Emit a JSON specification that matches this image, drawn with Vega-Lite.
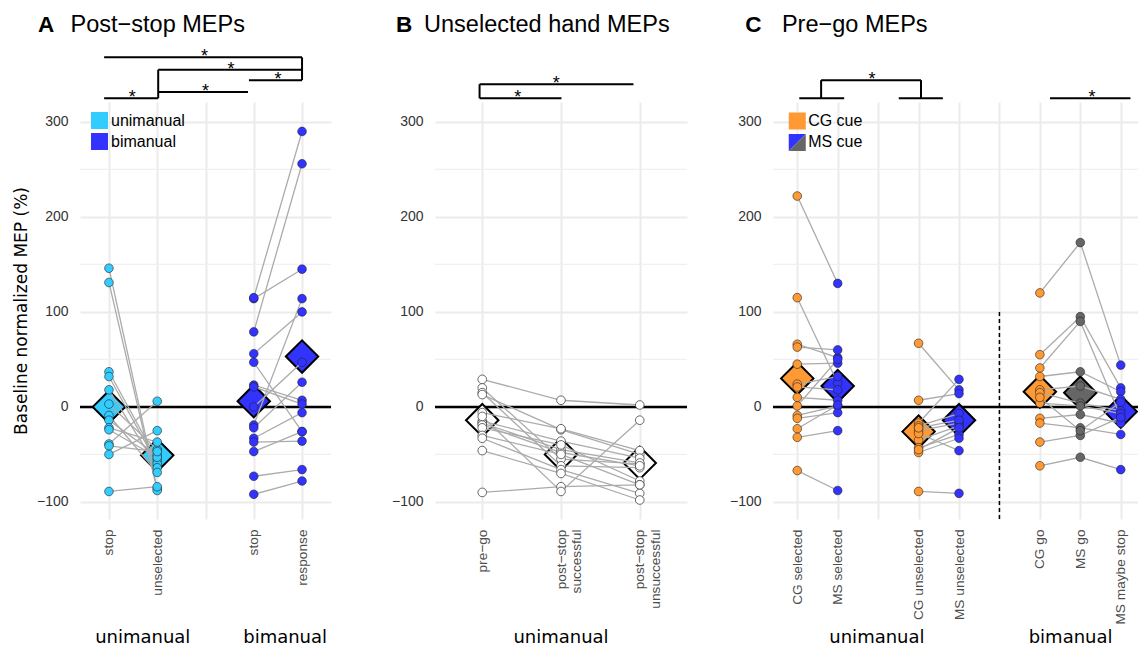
{
  "$schema": "https://vega.github.io/schema/vega-lite/v6.json",
  "background": "white",
  "padding": {"left": 12, "top": 12, "right": 0, "bottom": 0},
  "config": {
    "view": {"stroke": null},
    "font": "Liberation Sans",
    "axis": {"grid": true, "gridColor": "#EBEBEB", "gridWidth": 2, "domain": false, "ticks": false, "labelFont": "Liberation Sans", "labelFlush": false, "labelOverlap": false},
    "axisX": {"labelAngle": 270, "labelFontSize": 13.7, "labelColor": "#4D4D4D", "labelPadding": 10},
    "axisY": {"labelFontSize": 14, "labelColor": "#333333", "labelPadding": 12}
  },
  "resolve": {"scale": {"color": "independent"}, "legend": {"color": "independent"}},
  "datasets": {
    "minor": [{"v": -50}, {"v": 50}, {"v": 150}, {"v": 250}],
    "a": [
      {"s": "u1", "x": 1, "v": 146, "g": "unimanual"}, {"s": "u1", "x": 2, "v": -86, "g": "unimanual"},
      {"s": "u2", "x": 1, "v": 131, "g": "unimanual"}, {"s": "u2", "x": 2, "v": -88, "g": "unimanual"},
      {"s": "u3", "x": 1, "v": 37, "g": "unimanual"}, {"s": "u3", "x": 2, "v": -56, "g": "unimanual"},
      {"s": "u4", "x": 1, "v": 32, "g": "unimanual"}, {"s": "u4", "x": 2, "v": -60, "g": "unimanual"},
      {"s": "u5", "x": 1, "v": 18, "g": "unimanual"}, {"s": "u5", "x": 2, "v": -64, "g": "unimanual"},
      {"s": "u6", "x": 1, "v": 3, "g": "unimanual"}, {"s": "u6", "x": 2, "v": -45, "g": "unimanual"},
      {"s": "u7", "x": 1, "v": -9, "g": "unimanual"}, {"s": "u7", "x": 2, "v": -69, "g": "unimanual"},
      {"s": "u8", "x": 1, "v": -14, "g": "unimanual"}, {"s": "u8", "x": 2, "v": -51, "g": "unimanual"},
      {"s": "u9", "x": 1, "v": -22, "g": "unimanual"}, {"s": "u9", "x": 2, "v": -37, "g": "unimanual"},
      {"s": "u10", "x": 1, "v": -24, "g": "unimanual"}, {"s": "u10", "x": 2, "v": -53, "g": "unimanual"},
      {"s": "u11", "x": 1, "v": -39, "g": "unimanual"}, {"s": "u11", "x": 2, "v": 6, "g": "unimanual"},
      {"s": "u12", "x": 1, "v": -41, "g": "unimanual"}, {"s": "u12", "x": 2, "v": -47, "g": "unimanual"},
      {"s": "u13", "x": 1, "v": -50, "g": "unimanual"}, {"s": "u13", "x": 2, "v": -25, "g": "unimanual"},
      {"s": "u14", "x": 1, "v": -89, "g": "unimanual"}, {"s": "u14", "x": 2, "v": -84, "g": "unimanual"},
      {"s": "b1", "x": 4, "v": 114, "g": "bimanual"}, {"s": "b1", "x": 5, "v": 145, "g": "bimanual"},
      {"s": "b2", "x": 4, "v": 115, "g": "bimanual"}, {"s": "b2", "x": 5, "v": 290, "g": "bimanual"},
      {"s": "b3", "x": 4, "v": 79, "g": "bimanual"}, {"s": "b3", "x": 5, "v": 256, "g": "bimanual"},
      {"s": "b4", "x": 4, "v": 56, "g": "bimanual"}, {"s": "b4", "x": 5, "v": 100, "g": "bimanual"},
      {"s": "b5", "x": 4, "v": 47, "g": "bimanual"}, {"s": "b5", "x": 5, "v": -26, "g": "bimanual"},
      {"s": "b6", "x": 4, "v": 23, "g": "bimanual"}, {"s": "b6", "x": 5, "v": 7, "g": "bimanual"},
      {"s": "b7", "x": 4, "v": 21, "g": "bimanual"}, {"s": "b7", "x": 5, "v": 3, "g": "bimanual"},
      {"s": "b8", "x": 4, "v": 0, "g": "bimanual"}, {"s": "b8", "x": 5, "v": 47, "g": "bimanual"},
      {"s": "b9", "x": 4, "v": -19, "g": "bimanual"}, {"s": "b9", "x": 5, "v": 114, "g": "bimanual"},
      {"s": "b10", "x": 4, "v": -22, "g": "bimanual"}, {"s": "b10", "x": 5, "v": 26, "g": "bimanual"},
      {"s": "b11", "x": 4, "v": -33, "g": "bimanual"}, {"s": "b11", "x": 5, "v": -6, "g": "bimanual"},
      {"s": "b12", "x": 4, "v": -37, "g": "bimanual"}, {"s": "b12", "x": 5, "v": -36, "g": "bimanual"},
      {"s": "b13", "x": 4, "v": -47, "g": "bimanual"}, {"s": "b13", "x": 5, "v": -26, "g": "bimanual"},
      {"s": "b14", "x": 4, "v": -73, "g": "bimanual"}, {"s": "b14", "x": 5, "v": -66, "g": "bimanual"},
      {"s": "b15", "x": 4, "v": -92, "g": "bimanual"}, {"s": "b15", "x": 5, "v": -78, "g": "bimanual"}
    ],
    "am": [
      {"x": 1, "v": 0, "g": "unimanual"}, {"x": 2, "v": -51, "g": "unimanual"},
      {"x": 4, "v": 6, "g": "bimanual"}, {"x": 5, "v": 53, "g": "bimanual"}
    ],
    "ab": [
      {"x": 0.9, "x2": 5.0, "y": 368, "y2": 368},
      {"x": 5.0, "x2": 5.0, "y": 368, "y2": 344},
      {"x": 3.9, "x2": 5.0, "y": 344, "y2": 344},
      {"x": 2.02, "x2": 5.0, "y": 355, "y2": 355},
      {"x": 2.02, "x2": 2.02, "y": 355, "y2": 325},
      {"x": 2.02, "x2": 3.88, "y": 331.6, "y2": 331.6},
      {"x": 0.9, "x2": 2.02, "y": 325, "y2": 325}
    ],
    "as": [
      {"x": 2.98, "y": 368}, {"x": 3.53, "y": 355}, {"x": 4.5, "y": 344}, {"x": 3.0, "y": 331.6}, {"x": 1.48, "y": 325}
    ],
    "ag": [{"t": "unimanual", "x": 1.7}, {"t": "bimanual", "x": 4.65}],
    "b": [
      {"s": "s1", "x": 1, "v": 29}, {"s": "s1", "x": 2, "v": 7}, {"s": "s1", "x": 3, "v": 2},
      {"s": "s2", "x": 1, "v": 20}, {"s": "s2", "x": 2, "v": -55}, {"s": "s2", "x": 3, "v": -60},
      {"s": "s3", "x": 1, "v": 15}, {"s": "s3", "x": 2, "v": -62}, {"s": "s3", "x": 3, "v": -64},
      {"s": "s4", "x": 1, "v": 13}, {"s": "s4", "x": 2, "v": -24}, {"s": "s4", "x": 3, "v": -50},
      {"s": "s5", "x": 1, "v": -6}, {"s": "s5", "x": 2, "v": -23}, {"s": "s5", "x": 3, "v": -46},
      {"s": "s6", "x": 1, "v": -15}, {"s": "s6", "x": 2, "v": -36}, {"s": "s6", "x": 3, "v": -54},
      {"s": "s7", "x": 1, "v": -17}, {"s": "s7", "x": 2, "v": -45}, {"s": "s7", "x": 3, "v": -59},
      {"s": "s8", "x": 1, "v": -19}, {"s": "s8", "x": 2, "v": -48}, {"s": "s8", "x": 3, "v": -62},
      {"s": "s9", "x": 1, "v": -22}, {"s": "s9", "x": 2, "v": -40}, {"s": "s9", "x": 3, "v": -78},
      {"s": "s10", "x": 1, "v": -30}, {"s": "s10", "x": 2, "v": -50}, {"s": "s10", "x": 3, "v": -82},
      {"s": "s11", "x": 1, "v": -33}, {"s": "s11", "x": 2, "v": -66}, {"s": "s11", "x": 3, "v": -91},
      {"s": "s12", "x": 1, "v": -46}, {"s": "s12", "x": 2, "v": -70}, {"s": "s12", "x": 3, "v": -98},
      {"s": "s13", "x": 1, "v": -90}, {"s": "s13", "x": 2, "v": -84}, {"s": "s13", "x": 3, "v": -82},
      {"s": "s14", "x": 1, "v": -10}, {"s": "s14", "x": 2, "v": -89}, {"s": "s14", "x": 3, "v": -14}
    ],
    "bm": [{"x": 1, "v": -14}, {"x": 2, "v": -50}, {"x": 3, "v": -59}],
    "bb": [
      {"x": 0.966, "x2": 2.92, "y": 339.7, "y2": 339.7},
      {"x": 0.966, "x2": 0.966, "y": 339.7, "y2": 325},
      {"x": 0.966, "x2": 2.006, "y": 325, "y2": 325}
    ],
    "bs": [{"x": 1.94, "y": 339.7}, {"x": 1.45, "y": 325}],
    "c": [
      {"s": "c1", "x": 1, "v": 222, "g": "CG"}, {"s": "c1", "x": 2, "v": 130, "g": "MS"},
      {"s": "c2", "x": 1, "v": 115, "g": "CG"}, {"s": "c2", "x": 2, "v": 25, "g": "MS"},
      {"s": "c3", "x": 1, "v": 66, "g": "CG"}, {"s": "c3", "x": 2, "v": 52, "g": "MS"},
      {"s": "c4", "x": 1, "v": 63, "g": "CG"}, {"s": "c4", "x": 2, "v": 60, "g": "MS"},
      {"s": "c5", "x": 1, "v": 45, "g": "CG"}, {"s": "c5", "x": 2, "v": 46, "g": "MS"},
      {"s": "c6", "x": 1, "v": 24, "g": "CG"}, {"s": "c6", "x": 2, "v": 32, "g": "MS"},
      {"s": "c7", "x": 1, "v": 21, "g": "CG"}, {"s": "c7", "x": 2, "v": 18, "g": "MS"},
      {"s": "c8", "x": 1, "v": 10, "g": "CG"}, {"s": "c8", "x": 2, "v": 7, "g": "MS"},
      {"s": "c9", "x": 1, "v": 1, "g": "CG"}, {"s": "c9", "x": 2, "v": 50, "g": "MS"},
      {"s": "c10", "x": 1, "v": -9, "g": "CG"}, {"s": "c10", "x": 2, "v": 1, "g": "MS"},
      {"s": "c11", "x": 1, "v": -12, "g": "CG"}, {"s": "c11", "x": 2, "v": -6, "g": "MS"},
      {"s": "c12", "x": 1, "v": -23, "g": "CG"}, {"s": "c12", "x": 2, "v": 2, "g": "MS"},
      {"s": "c13", "x": 1, "v": -32, "g": "CG"}, {"s": "c13", "x": 2, "v": -25, "g": "MS"},
      {"s": "c14", "x": 1, "v": -67, "g": "CG"}, {"s": "c14", "x": 2, "v": -88, "g": "MS"},
      {"s": "d1", "x": 4, "v": 67, "g": "CG"}, {"s": "d1", "x": 5, "v": 18, "g": "MS"},
      {"s": "d2", "x": 4, "v": 7, "g": "CG"}, {"s": "d2", "x": 5, "v": 14, "g": "MS"},
      {"s": "d3", "x": 4, "v": -17, "g": "CG"}, {"s": "d3", "x": 5, "v": 29, "g": "MS"},
      {"s": "d4", "x": 4, "v": -20, "g": "CG"}, {"s": "d4", "x": 5, "v": -7, "g": "MS"},
      {"s": "d5", "x": 4, "v": -25, "g": "CG"}, {"s": "d5", "x": 5, "v": -17, "g": "MS"},
      {"s": "d6", "x": 4, "v": -35, "g": "CG"}, {"s": "d6", "x": 5, "v": -20, "g": "MS"},
      {"s": "d7", "x": 4, "v": -43, "g": "CG"}, {"s": "d7", "x": 5, "v": -29, "g": "MS"},
      {"s": "d8", "x": 4, "v": -48, "g": "CG"}, {"s": "d8", "x": 5, "v": -33, "g": "MS"},
      {"s": "d9", "x": 4, "v": -89, "g": "CG"}, {"s": "d9", "x": 5, "v": -91, "g": "MS"},
      {"s": "d10", "x": 4, "v": -28, "g": "CG"}, {"s": "d10", "x": 5, "v": -46, "g": "MS"},
      {"s": "d11", "x": 4, "v": -22, "g": "CG"}, {"s": "d11", "x": 5, "v": -14, "g": "MS"},
      {"s": "d12", "x": 4, "v": -45, "g": "CG"}, {"s": "d12", "x": 5, "v": -22, "g": "MS"},
      {"s": "e1", "x": 7, "v": 120, "g": "CG"}, {"s": "e1", "x": 8, "v": 173, "g": "MSgo"}, {"s": "e1", "x": 9, "v": 44, "g": "MS"},
      {"s": "e2", "x": 7, "v": 55, "g": "CG"}, {"s": "e2", "x": 8, "v": 95, "g": "MSgo"}, {"s": "e2", "x": 9, "v": 20, "g": "MS"},
      {"s": "e3", "x": 7, "v": 41, "g": "CG"}, {"s": "e3", "x": 8, "v": 90, "g": "MSgo"}, {"s": "e3", "x": 9, "v": -11, "g": "MS"},
      {"s": "e4", "x": 7, "v": 32, "g": "CG"}, {"s": "e4", "x": 8, "v": 37, "g": "MSgo"}, {"s": "e4", "x": 9, "v": 16, "g": "MS"},
      {"s": "e5", "x": 7, "v": 18, "g": "CG"}, {"s": "e5", "x": 8, "v": 22, "g": "MSgo"}, {"s": "e5", "x": 9, "v": 8, "g": "MS"},
      {"s": "e6", "x": 7, "v": 15, "g": "CG"}, {"s": "e6", "x": 8, "v": 4, "g": "MSgo"}, {"s": "e6", "x": 9, "v": -4, "g": "MS"},
      {"s": "e7", "x": 7, "v": 4, "g": "CG"}, {"s": "e7", "x": 8, "v": 1, "g": "MSgo"}, {"s": "e7", "x": 9, "v": -7, "g": "MS"},
      {"s": "e8", "x": 7, "v": -12, "g": "CG"}, {"s": "e8", "x": 8, "v": -8, "g": "MSgo"}, {"s": "e8", "x": 9, "v": -17, "g": "MS"},
      {"s": "e9", "x": 7, "v": -17, "g": "CG"}, {"s": "e9", "x": 8, "v": -22, "g": "MSgo"}, {"s": "e9", "x": 9, "v": -29, "g": "MS"},
      {"s": "e10", "x": 7, "v": -37, "g": "CG"}, {"s": "e10", "x": 8, "v": -30, "g": "MSgo"}, {"s": "e10", "x": 9, "v": -11, "g": "MS"},
      {"s": "e11", "x": 7, "v": -62, "g": "CG"}, {"s": "e11", "x": 8, "v": -53, "g": "MSgo"}, {"s": "e11", "x": 9, "v": -66, "g": "MS"},
      {"s": "e12", "x": 7, "v": 10, "g": "CG"}, {"s": "e12", "x": 8, "v": -25, "g": "MSgo"}, {"s": "e12", "x": 9, "v": 5, "g": "MS"}
    ],
    "cm": [
      {"x": 1, "v": 30, "g": "CG"}, {"x": 2, "v": 22, "g": "MS"},
      {"x": 4, "v": -26, "g": "CG"}, {"x": 5, "v": -14, "g": "MS"},
      {"x": 7, "v": 16, "g": "CG"}, {"x": 8, "v": 15, "g": "MSgo"}, {"x": 9, "v": -5, "g": "MS"}
    ],
    "cb": [
      {"x": 1.05, "x2": 2.16, "y": 325, "y2": 325},
      {"x": 3.51, "x2": 4.6, "y": 325, "y2": 325},
      {"x": 1.59, "x2": 1.59, "y": 325, "y2": 344},
      {"x": 1.59, "x2": 4.06, "y": 344, "y2": 344},
      {"x": 4.06, "x2": 4.06, "y": 344, "y2": 325},
      {"x": 7.25, "x2": 9.24, "y": 325, "y2": 325}
    ],
    "cs": [{"x": 2.85, "y": 344}, {"x": 8.29, "y": 325}],
    "cg": [{"t": "unimanual", "x": 2.97}, {"t": "bimanual", "x": 7.76}]
  },
  "spacing": 58,
  "hconcat": [
    {
      "width": 251,
      "height": 417,
      "layer": [
        {"data": {"name": "minor"}, "mark": {"type": "rule", "color": "#F0F0F0", "strokeWidth": 1.2}, "encoding": {"y": {"field": "v", "type": "quantitative"}}},
        {"data": {"values": [{}]}, "mark": {"type": "rule", "color": "black", "strokeWidth": 2.5}, "encoding": {"y": {"datum": 0, "type": "quantitative"}}},
        {"data": {"name": "am"}, "mark": {"type": "point", "shape": "diamond", "filled": true, "size": 1050, "stroke": "black", "strokeWidth": 2, "opacity": 1},
         "encoding": {"x": {"field": "x", "type": "quantitative"}, "y": {"field": "v", "type": "quantitative"}, "color": {"field": "g", "type": "nominal"}}},
        {"data": {"name": "a"}, "mark": {"type": "line", "color": "#ABABAB", "strokeWidth": 1.3},
         "encoding": {"x": {"field": "x", "type": "quantitative"}, "y": {"field": "v", "type": "quantitative"}, "detail": {"field": "s"}}},
        {"data": {"name": "a"}, "mark": {"type": "circle", "size": 75, "stroke": "#222222", "strokeWidth": 0.6, "opacity": 1},
         "encoding": {
           "x": {"field": "x", "type": "quantitative", "scale": {"domain": [0.4, 5.6], "nice": false, "zero": false},
                 "axis": {"title": null, "values": [1, 2, 3, 4, 5], "labelExpr": "['','stop','unselected','','stop','response'][datum.value]"}},
           "y": {"field": "v", "type": "quantitative", "scale": {"domain": [-118, 321], "nice": false, "zero": false},
                 "axis": {"values": [-100, 0, 100, 200, 300], "title": "Baseline normalized MEP (%)", "titleFont": "DejaVu Sans", "titleFontSize": 17, "titleFontWeight": "normal", "titleColor": "black", "titlePadding": 6}},
           "color": {"field": "g", "type": "nominal", "scale": {"domain": ["unimanual", "bimanual"], "range": ["#33CCFF", "#3333FF"]},
                     "legend": {"title": null, "orient": "none", "legendX": 11, "legendY": 10, "symbolType": "square", "symbolSize": 289, "symbolStrokeWidth": 0, "symbolOpacity": 1, "labelFontSize": 16, "labelColor": "black", "rowPadding": 4, "labelOffset": 3}}
         }},
        {"data": {"name": "ab"}, "mark": {"type": "rule", "color": "black", "strokeWidth": 2, "clip": false},
         "encoding": {"x": {"field": "x", "type": "quantitative"}, "x2": {"field": "x2"}, "y": {"field": "y", "type": "quantitative"}, "y2": {"field": "y2"}}},
        {"data": {"name": "as"}, "mark": {"type": "text", "text": "*", "fontSize": 18, "color": "black", "baseline": "middle", "clip": false},
         "encoding": {"x": {"field": "x", "type": "quantitative"}, "y": {"field": "y", "type": "quantitative"}}},
        {"data": {"values": [{}]}, "mark": {"type": "text", "text": "A", "fontSize": 22.5, "fontWeight": "bold", "color": "black", "align": "left", "baseline": "alphabetic", "clip": false},
         "encoding": {"x": {"datum": -0.47, "type": "quantitative"}, "y": {"datum": 395, "type": "quantitative"}}},
        {"data": {"values": [{}]}, "mark": {"type": "text", "text": "Post−stop MEPs", "fontSize": 23.5, "color": "black", "align": "left", "baseline": "alphabetic", "clip": false},
         "encoding": {"x": {"datum": 0.205, "type": "quantitative"}, "y": {"datum": 395, "type": "quantitative"}}},
        {"data": {"name": "ag"}, "mark": {"type": "text", "font": "DejaVu Sans", "fontSize": 18, "color": "black", "align": "center", "baseline": "alphabetic", "clip": false},
         "encoding": {"x": {"field": "x", "type": "quantitative"}, "y": {"datum": -249, "type": "quantitative"}, "text": {"field": "t"}}}
      ]
    },
    {
      "spacing": 86,
      "bounds": "flush",
      "hconcat": [
        {
          "width": 252,
          "height": 417,
          "layer": [
            {"data": {"name": "minor"}, "mark": {"type": "rule", "color": "#F0F0F0", "strokeWidth": 1.2}, "encoding": {"y": {"field": "v", "type": "quantitative"}}},
            {"data": {"values": [{}]}, "mark": {"type": "rule", "color": "black", "strokeWidth": 2.5}, "encoding": {"y": {"datum": 0, "type": "quantitative"}}},
            {"data": {"name": "bm"}, "mark": {"type": "point", "shape": "diamond", "filled": true, "size": 1050, "color": "white", "stroke": "black", "strokeWidth": 2, "opacity": 1},
             "encoding": {"x": {"field": "x", "type": "quantitative"}, "y": {"field": "v", "type": "quantitative"}}},
            {"data": {"name": "b"}, "mark": {"type": "line", "color": "#ABABAB", "strokeWidth": 1.3},
             "encoding": {"x": {"field": "x", "type": "quantitative"}, "y": {"field": "v", "type": "quantitative"}, "detail": {"field": "s"}}},
            {"data": {"name": "b"}, "mark": {"type": "circle", "size": 75, "color": "white", "stroke": "#444444", "strokeWidth": 0.8, "opacity": 1},
             "encoding": {
               "x": {"field": "x", "type": "quantitative", "scale": {"domain": [0.4, 3.6], "nice": false, "zero": false},
                     "axis": {"title": null, "values": [1, 2, 3], "labelExpr": "datum.value == 1 ? 'pre−go' : datum.value == 2 ? ['post−stop', 'successful'] : ['post−stop', 'unsuccessful']"}},
               "y": {"field": "v", "type": "quantitative", "scale": {"domain": [-118, 321], "nice": false, "zero": false}, "axis": {"title": null, "values": [-100, 0, 100, 200, 300]}}
             }},
            {"data": {"name": "bb"}, "mark": {"type": "rule", "color": "black", "strokeWidth": 2, "clip": false},
             "encoding": {"x": {"field": "x", "type": "quantitative"}, "x2": {"field": "x2"}, "y": {"field": "y", "type": "quantitative"}, "y2": {"field": "y2"}}},
            {"data": {"name": "bs"}, "mark": {"type": "text", "text": "*", "fontSize": 18, "color": "black", "baseline": "middle", "clip": false},
             "encoding": {"x": {"field": "x", "type": "quantitative"}, "y": {"field": "y", "type": "quantitative"}}},
            {"data": {"values": [{}]}, "mark": {"type": "text", "text": "B", "fontSize": 22.5, "fontWeight": "bold", "color": "black", "align": "left", "baseline": "alphabetic", "clip": false},
             "encoding": {"x": {"datum": -0.096, "type": "quantitative"}, "y": {"datum": 395, "type": "quantitative"}}},
            {"data": {"values": [{}]}, "mark": {"type": "text", "text": "Unselected hand MEPs", "fontSize": 23.5, "color": "black", "align": "left", "baseline": "alphabetic", "clip": false},
             "encoding": {"x": {"datum": 0.261, "type": "quantitative"}, "y": {"datum": 395, "type": "quantitative"}}},
            {"data": {"values": [{}]}, "mark": {"type": "text", "text": "unimanual", "font": "DejaVu Sans", "fontSize": 18, "color": "black", "align": "center", "baseline": "alphabetic", "clip": false},
             "encoding": {"x": {"datum": 2.0, "type": "quantitative"}, "y": {"datum": -249, "type": "quantitative"}}}
          ]
        },
        {
          "width": 372,
          "height": 417,
          "layer": [
            {"data": {"name": "minor"}, "mark": {"type": "rule", "color": "#F0F0F0", "strokeWidth": 1.2}, "encoding": {"y": {"field": "v", "type": "quantitative"}}},
            {"data": {"values": [{}]}, "mark": {"type": "rule", "color": "black", "strokeWidth": 2.5}, "encoding": {"y": {"datum": 0, "type": "quantitative"}}},
            {"data": {"values": [{}]}, "mark": {"type": "rule", "color": "black", "strokeWidth": 1.5, "strokeDash": [4, 3]},
             "encoding": {"x": {"datum": 6, "type": "quantitative"}, "y": {"datum": 100, "type": "quantitative"}, "y2": {"datum": -118}}},
            {"data": {"name": "cm"}, "mark": {"type": "point", "shape": "diamond", "filled": true, "size": 1050, "stroke": "black", "strokeWidth": 2, "opacity": 1},
             "encoding": {"x": {"field": "x", "type": "quantitative"}, "y": {"field": "v", "type": "quantitative"}, "color": {"field": "g", "type": "nominal"}}},
            {"data": {"name": "c"}, "mark": {"type": "line", "color": "#ABABAB", "strokeWidth": 1.3},
             "encoding": {"x": {"field": "x", "type": "quantitative"}, "y": {"field": "v", "type": "quantitative"}, "detail": {"field": "s"}}},
            {"data": {"name": "c"}, "mark": {"type": "circle", "size": 75, "stroke": "#222222", "strokeWidth": 0.6, "opacity": 1},
             "encoding": {
               "x": {"field": "x", "type": "quantitative", "scale": {"domain": [0.4, 9.6], "nice": false, "zero": false},
                     "axis": {"title": null, "values": [1, 2, 3, 4, 5, 6, 7, 8, 9], "labelExpr": "['','CG selected','MS selected','','CG unselected','MS unselected','','CG go','MS go','MS maybe stop'][datum.value]"}},
               "y": {"field": "v", "type": "quantitative", "scale": {"domain": [-118, 321], "nice": false, "zero": false}, "axis": {"title": null, "values": [-100, 0, 100, 200, 300]}},
               "color": {"field": "g", "type": "nominal", "scale": {"domain": ["CG", "MS", "MSgo"], "range": ["#FF9933", "#3333FF", "#666666"]}, "legend": null}
             }},
            {"data": {"name": "cb"}, "mark": {"type": "rule", "color": "black", "strokeWidth": 2, "clip": false},
             "encoding": {"x": {"field": "x", "type": "quantitative"}, "x2": {"field": "x2"}, "y": {"field": "y", "type": "quantitative"}, "y2": {"field": "y2"}}},
            {"data": {"name": "cs"}, "mark": {"type": "text", "text": "*", "fontSize": 18, "color": "black", "baseline": "middle", "clip": false},
             "encoding": {"x": {"field": "x", "type": "quantitative"}, "y": {"field": "y", "type": "quantitative"}}},
            {"data": {"values": [{}]}, "mark": {"type": "point", "shape": "square", "filled": true, "size": 289, "color": "#FF9933", "opacity": 1},
             "encoding": {"x": {"datum": 1, "type": "quantitative"}, "y": {"datum": 301, "type": "quantitative"}}},
            {"data": {"values": [{}]}, "mark": {"type": "point", "shape": "M-1,-1L1,-1L-1,1Z", "filled": true, "size": 289, "color": "#3333FF", "opacity": 1},
             "encoding": {"x": {"datum": 1, "type": "quantitative"}, "y": {"datum": 278.4, "type": "quantitative"}}},
            {"data": {"values": [{}]}, "mark": {"type": "point", "shape": "M1,-1L1,1L-1,1Z", "filled": true, "size": 289, "color": "#666666", "opacity": 1},
             "encoding": {"x": {"datum": 1, "type": "quantitative"}, "y": {"datum": 278.4, "type": "quantitative"}}},
            {"data": {"values": [{}]}, "mark": {"type": "text", "text": "CG cue", "fontSize": 16, "color": "black", "align": "left", "baseline": "middle"},
             "encoding": {"x": {"datum": 1.27, "type": "quantitative"}, "y": {"datum": 301, "type": "quantitative"}}},
            {"data": {"values": [{}]}, "mark": {"type": "text", "text": "MS cue", "fontSize": 16, "color": "black", "align": "left", "baseline": "middle"},
             "encoding": {"x": {"datum": 1.27, "type": "quantitative"}, "y": {"datum": 278.4, "type": "quantitative"}}},
            {"data": {"values": [{}]}, "mark": {"type": "text", "text": "C", "fontSize": 22.5, "fontWeight": "bold", "color": "black", "align": "left", "baseline": "alphabetic", "clip": false},
             "encoding": {"x": {"datum": -0.287, "type": "quantitative"}, "y": {"datum": 395, "type": "quantitative"}}},
            {"data": {"values": [{}]}, "mark": {"type": "text", "text": "Pre−go MEPs", "fontSize": 23.5, "color": "black", "align": "left", "baseline": "alphabetic", "clip": false},
             "encoding": {"x": {"datum": 0.621, "type": "quantitative"}, "y": {"datum": 395, "type": "quantitative"}}},
            {"data": {"name": "cg"}, "mark": {"type": "text", "font": "DejaVu Sans", "fontSize": 18, "color": "black", "align": "center", "baseline": "alphabetic", "clip": false},
             "encoding": {"x": {"field": "x", "type": "quantitative"}, "y": {"datum": -249, "type": "quantitative"}, "text": {"field": "t"}}}
          ]
        }
      ]
    }
  ]
}
